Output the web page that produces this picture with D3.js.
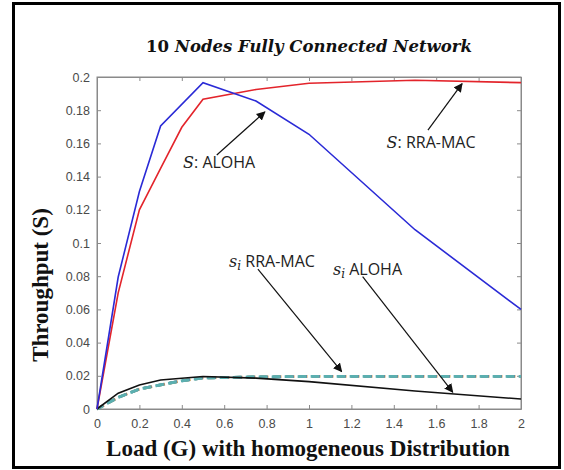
<!DOCTYPE html>
<html><head><meta charset="utf-8">
<script src="https://cdn.jsdelivr.net/npm/d3@7"></script>
<style>body{margin:0;background:#fff}svg{display:block}</style>
</head><body>
<svg id="c" width="564" height="470"></svg>
<script>
const loadG = [0, 0.1, 0.2, 0.3, 0.4, 0.5, 0.75, 1, 1.5, 2];
const alohaG = [0, 0.1, 0.2, 0.3, 0.5, 0.75, 1, 1.5, 2];
const alohaS = [0, 0.0795, 0.131, 0.1705, 0.1966, 0.1855, 0.1655, 0.108, 0.06];
const rramacS = [0, 0.07, 0.12, 0.145, 0.1697, 0.1866, 0.1925, 0.1962, 0.198, 0.1966];
const alohaSi = [0, 0.0095, 0.0145, 0.0175, 0.0196, 0.0186, 0.0165, 0.0108, 0.006];
const rramacSi = [0, 0.007, 0.012, 0.0145, 0.017, 0.0187, 0.0193, 0.0196, 0.0197, 0.0196];
const nodeColors = ["#D9A048", "#4A7FBF", "#6FB09A", "#5BAFB0"];
const xTicks = [0, 0.2, 0.4, 0.6, 0.8, 1, 1.2, 1.4, 1.6, 1.8, 2];
const yTicks = [0, 0.02, 0.04, 0.06, 0.08, 0.1, 0.12, 0.14, 0.16, 0.18, 0.2];
const annotations = [
  {label: "ALOHA", sym: "S", sub: "", colon: true, tx: 0.406, ty: 0.145, x1: 0.565, y1: 0.153, x2: 0.792, y2: 0.179},
  {label: "RRA-MAC", sym: "S", sub: "", colon: true, tx: 1.366, ty: 0.157, x1: 1.561, y1: 0.168, x2: 1.722, y2: 0.196},
  {label: "RRA-MAC", sym: "s", sub: "i", colon: false, tx: 0.623, ty: 0.0855, x1: 0.759, y1: 0.0843, x2: 1.154, y2: 0.0225},
  {label: "ALOHA", sym: "s", sub: "i", colon: false, tx: 1.113, ty: 0.0807, x1: 1.253, y1: 0.0797, x2: 1.678, y2: 0.0101}
];

const svg = d3.select("#c");
const m = {l: 97, r: 521, t: 77, b: 409};
const x = d3.scaleLinear().domain([0, 2]).range([m.l, m.r]);
const y = d3.scaleLinear().domain([0, 0.2]).range([m.b, m.t]);

svg.append("rect").attr("x", 13.5).attr("y", 3.5).attr("width", 546).attr("height", 464)
  .attr("fill", "#fff").attr("stroke", "#000").attr("stroke-width", 3);

svg.append("rect").attr("x", m.l).attr("y", m.t).attr("width", m.r - m.l).attr("height", m.b - m.t)
  .attr("fill", "#fff").attr("stroke", "#8a8a8a").attr("stroke-width", 1);

const tickCol = "#8a8a8a", labCol = "#4a4a4a";
const axFont = "Liberation Sans, Arial, sans-serif";
const gx = svg.append("g").attr("transform", `translate(0,${m.b})`)
  .call(d3.axisBottom(x).tickValues(xTicks).tickSizeInner(-4).tickSizeOuter(0).tickPadding(10).tickFormat(d3.format("~g")));
const gxt = svg.append("g").attr("transform", `translate(0,${m.t})`)
  .call(d3.axisTop(x).tickValues(xTicks).tickSizeInner(-4).tickSizeOuter(0).tickFormat(""));
const gy = svg.append("g").attr("transform", `translate(${m.l},0)`)
  .call(d3.axisLeft(y).tickValues(yTicks).tickSizeInner(-4).tickSizeOuter(0).tickPadding(7).tickFormat(d3.format("~g")));
const gyr = svg.append("g").attr("transform", `translate(${m.r},0)`)
  .call(d3.axisRight(y).tickValues(yTicks).tickSizeInner(-4).tickSizeOuter(0).tickFormat(""));
[gx, gxt, gy, gyr].forEach(g => {
  g.select(".domain").attr("stroke", tickCol);
  g.selectAll(".tick line").attr("stroke", tickCol);
  g.selectAll("text").attr("fill", labCol).attr("font-family", axFont).attr("font-size", 12.5);
});

const lineOn = xs => d3.line().x((d, i) => x(xs[i])).y(d => y(d));

nodeColors.forEach((c, k) => {
  svg.append("path").datum(rramacSi).attr("d", lineOn(loadG)).attr("fill", "none")
    .attr("stroke", c).attr("stroke-width", 2.8).attr("stroke-dasharray", "8,5")
    .attr("stroke-dashoffset", k * 0.6);
});
svg.append("path").datum(alohaSi).attr("d", lineOn(alohaG)).attr("fill", "none").attr("stroke", "#111").attr("stroke-width", 1.6);
svg.append("path").datum(rramacS).attr("d", lineOn(loadG)).attr("fill", "none").attr("stroke", "#e3242b").attr("stroke-width", 1.6);
svg.append("path").datum(alohaS).attr("d", lineOn(alohaG)).attr("fill", "none").attr("stroke", "#2a2ad6").attr("stroke-width", 1.6);

svg.append("defs").append("marker").attr("id", "ah").attr("viewBox", "0 0 10 10")
  .attr("refX", 9).attr("refY", 5).attr("markerWidth", 9).attr("markerHeight", 9)
  .attr("markerUnits", "userSpaceOnUse").attr("orient", "auto")
  .append("path").attr("d", "M0,0L10,5L0,10z").attr("fill", "#111");

annotations.forEach(a => {
  svg.append("line").attr("x1", x(a.x1)).attr("y1", y(a.y1)).attr("x2", x(a.x2)).attr("y2", y(a.y2))
    .attr("stroke", "#111").attr("stroke-width", 1.2).attr("marker-end", "url(#ah)");
  const t = svg.append("text").attr("x", x(a.tx)).attr("y", y(a.ty)).attr("font-size", 16).attr("fill", "#222");
  t.append("tspan").attr("font-family", "DejaVu Serif, serif").attr("font-style", "italic").text(a.sym);
  if (a.sub) t.append("tspan").attr("font-family", "DejaVu Serif, serif").attr("font-style", "italic")
    .attr("font-size", 12).attr("dy", 3).text(a.sub);
  t.append("tspan").attr("font-family", "Open Sans, sans-serif").attr("dy", a.sub ? -3 : 0)
    .text((a.colon ? ": " : " ") + a.label);
});

const title = svg.append("text").attr("x", 309).attr("y", 52).attr("text-anchor", "middle")
  .attr("font-family", "DejaVu Serif, serif").attr("font-weight", "bold").attr("font-size", 16.5).attr("fill", "#111");
title.append("tspan").text("10 ");
title.append("tspan").attr("font-style", "italic").text("Nodes Fully Connected Network");

svg.append("text").attr("x", 308).attr("y", 456).attr("text-anchor", "middle")
  .attr("font-family", "Liberation Serif, Times New Roman, serif").attr("font-weight", "bold")
  .attr("font-size", 23).attr("fill", "#111").text("Load (G) with homogeneous Distribution");
svg.append("text").attr("transform", "translate(48,285) rotate(-90)").attr("text-anchor", "middle")
  .attr("font-family", "Liberation Serif, Times New Roman, serif").attr("font-weight", "bold")
  .attr("font-size", 23).attr("fill", "#111").text("Throughput (S)");
</script>
</body></html>
